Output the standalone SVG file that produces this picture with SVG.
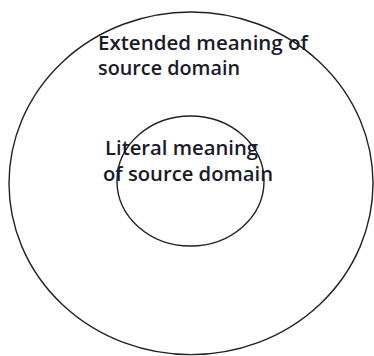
<svg xmlns="http://www.w3.org/2000/svg" width="374" height="356" viewBox="0 0 374 356">
<style>
.c{fill:none;stroke:#222;stroke-width:1.4}
.t{font-family:"Open Sans","Liberation Sans",sans-serif;font-size:19px;font-weight:600;fill:#1a1a28}
</style>
<rect width="374" height="356" fill="#fff"/>
<g id="outer"><ellipse class="c" cx="191" cy="183.3" rx="182" ry="171.3"/>
<text class="t" x="98" y="50" textLength="210" lengthAdjust="spacingAndGlyphs">Extended meaning of</text>
<text class="t" x="98" y="75" textLength="142" lengthAdjust="spacingAndGlyphs">source domain</text></g>
<g id="inner"><ellipse class="c" cx="190.5" cy="181" rx="73.5" ry="65"/>
<text class="t" x="105" y="155" textLength="153" lengthAdjust="spacingAndGlyphs">Literal meaning</text>
<text class="t" x="103" y="181" textLength="170" lengthAdjust="spacingAndGlyphs">of source domain</text></g>
<g id="connectors"/>
</svg>
